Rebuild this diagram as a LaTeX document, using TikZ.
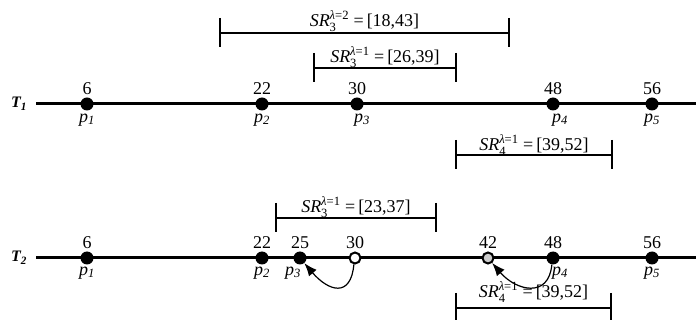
\documentclass[tikz,border=0pt]{standalone}
\usepackage{amsmath}
\usepackage{fontspec}
\setmainfont{Liberation Serif}
\usetikzlibrary{arrows.meta}
\newcommand\srlab[3]{$\text{\textit{SR}}_{\text{#1}}^{\text{\textit{λ}=#2}}$ =\,[#3]}
\newcommand\plab[1]{\textit{p}\textsubscript{\textit{#1}}}
\begin{document}
\begin{tikzpicture}[x=1pt,y=-1pt,
  every node/.style={font=\fontsize{18}{21}\selectfont,inner sep=0pt},
  tlab/.style={font=\fontsize{16}{19}\selectfont\bfseries\itshape},
  dot/.style={circle,fill=black,inner sep=0pt,minimum size=13pt},
  odot/.style={circle,draw=black,fill=white,line width=2pt,inner sep=0pt,minimum size=11pt},
  gdot/.style={circle,draw=black,fill=gray!40,line width=2pt,inner sep=0pt,minimum size=11pt},
  axisline/.style={line width=3pt},
  intv/.style={line width=1.4pt},
  bendarrow/.style={line width=1.2pt,-{Latex[length=13pt,width=10pt]}}]
\useasboundingbox (0,0) rectangle (696,320);
\newcommand\intvl[6]{% name, xl, xr, y, label, label offset
  \coordinate (#1l) at (#2,#4);
  \coordinate (#1r) at (#3,#4);
  \coordinate (#1lt) at (#2,#4-15);
  \coordinate (#1lb) at (#2,#4+14);
  \coordinate (#1rt) at (#3,#4-15);
  \coordinate (#1rb) at (#3,#4+14);
  \draw[intv] (#1l) -- (#1r);
  \draw[intv] (#1lt) -- (#1lb);
  \draw[intv] (#1rt) -- (#1rb);
  \node[anchor=base] (#1lab) at ({(#2+#3)/2},#4-#6) {#5};}

% ---------- T1 ----------
\node[tlab] (T1) at (19,104) {T\textsubscript{1}};
\coordinate (t1s) at (36,104);
\coordinate (t1e) at (696,104);
\draw[axisline] (t1s) -- (t1e);
\node[dot] (a1) at (87,104) {};
\node[dot] (a2) at (262,104) {};
\node[dot] (a3) at (357,104) {};
\node[dot] (a4) at (553,104) {};
\node[dot] (a5) at (652,104) {};
\node (an1) at (87,89) {6};
\node (an2) at (262,89) {22};
\node (an3) at (357,89) {30};
\node (an4) at (553,89) {48};
\node (an5) at (652,89) {56};
\node (ap1) at (87,120) {\plab{1}};
\node (ap2) at (262,120) {\plab{2}};
\node (ap3) at (362,120) {\plab{3}};
\node (ap4) at (560,120) {\plab{4}};
\node (ap5) at (652,120) {\plab{5}};
\intvl{ia}{220}{509}{33}{\srlab{3}{2}{18,43}}{6}
\intvl{ib}{314}{456}{68}{\srlab{3}{1}{26,39}}{5}
\intvl{ic}{456}{612}{155}{\srlab{4}{1}{39,52}}{4}

% ---------- T2 ----------
\node[tlab] (T2) at (19,258) {T\textsubscript{2}};
\coordinate (t2s) at (36,258);
\coordinate (t2e) at (696,258);
\draw[axisline] (t2s) -- (t2e);
\node[dot] (b1) at (87,258) {};
\node[dot] (b2) at (262,258) {};
\node[dot] (b25) at (300,258) {};
\node[odot] (b30) at (355,258) {};
\node[gdot] (b42) at (488,258) {};
\node[dot] (b4) at (553,258) {};
\node[dot] (b5) at (652,258) {};
\node (bn1) at (87,243) {6};
\node (bn2) at (262,243) {22};
\node (bn25) at (300,243) {25};
\node (bn30) at (355,243) {30};
\node (bn42) at (488,243) {42};
\node (bn4) at (553,243) {48};
\node (bn5) at (652,243) {56};
\node (bp1) at (87,273) {\plab{1}};
\node (bp2) at (262,273) {\plab{2}};
\node (bp3) at (293,273) {\plab{3}};
\node (bp4) at (560,273) {\plab{4}};
\node (bp5) at (652,273) {\plab{5}};
\intvl{id}{276}{436}{218}{\srlab{3}{1}{23,37}}{5}
\intvl{ie}{456}{611}{308}{\srlab{4}{1}{39,52}}{10}

\draw[bendarrow] (b30.260) .. controls +(-3,34) and +(24,28) .. (b25.-50);
\draw[bendarrow] (b4.260) .. controls +(-3,34) and +(24,28) .. (b42.-50);
\end{tikzpicture}
\end{document}
